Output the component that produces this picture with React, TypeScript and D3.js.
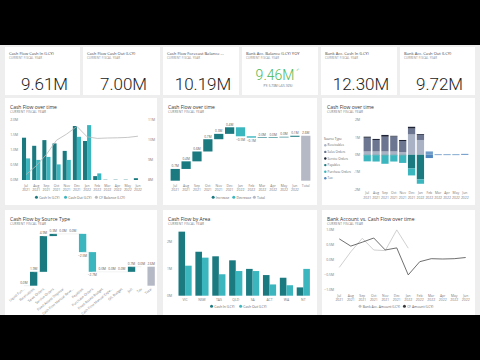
import React from 'react';
import * as d3 from 'd3';

// ---- data ----
const months = ['Jul', 'Aug', 'Sep', 'Oct', 'Nov', 'Dec', 'Jan', 'Feb', 'Mar', 'Apr', 'May', 'Jun'];
const monthYears = ['2021', '2021', '2021', '2021', '2021', '2021', '2022', '2022', '2022', '2022', '2022', '2022'];

const cashIn = [1.41, 1.14, 1.33, 1.22, 0.97, 1.8, 1.3, 0.13, 0.01, 0.01, 0.01, 0.06];
const cashOut = [0.72, 0.67, 0.77, 0.52, 0.67, 1.44, 1.83, 0.22, 0, 0, 0, 0];
const cfBalance = [8.27, 8.71, 9.28, 9.99, 10.3, 10.68, 10.16, 10.08, 10.1, 10.11, 10.13, 10.19];

const cfDelta = [0.68, 0.44, 0.57, 0.71, 0.31, 0.38, -0.52, -0.08, 0.02, 0.01, 0.02, 0.06];

const receivables = [0.19, 0.19, 0.19, 0.19, 0.15, 1.17, 0.85, 0, 0, 0, 0, 0];
const salesOrders = [0.79, 0.66, 0.85, 0.86, 0.64, 0.34, 0.32, 0, 0, 0, 0, 0];
const serviceOrders = [0.06, 0.06, 0.1, 0.04, 0.06, 0.1, 0.01, 0, 0, 0, 0, 0];
const payables = [-0.03, -0.03, -0.05, -0.03, -0.05, -0.79, -1.42, 0, 0, 0, 0, 0];
const purchaseOrders = [-0.35, -0.36, -0.47, -0.36, -0.42, -0.4, -0.25, 0, 0, 0, 0, 0];
const tax = [0, 0, 0, 0, 0, 0, 0, -0.19, 0.02, 0.02, 0.02, 0.05];
const taxRefund = [0, 0, 0, 0, 0, 0, 0, 0.19, 0, 0, 0, 0];

const sourceTypes = ['Liquid Fun...', 'Receivables', 'Sales Orders', 'Service Orders', 'Fixed Assets Disposal',
  'Cash Flow Manual Reve...', 'Payables', 'Purchase Orders', 'Fixed Assets Budget', 'Cash Flow Manual Expe...',
  'G/L Budget', 'Job', 'Tax'];
const sourceValues = [0, 1.9, 4.9, 0.3, 0, 0, -2.5, -2.7, 0, 0, 0, 0.7, 0];

const areas = ['VIC', 'NSW', 'TAS', 'QLD', 'SA', 'ACT', 'WA', 'NT'];
const areaIn = [2.39, 1.64, 1.47, 1.32, 1.0, 0.77, 0.67, 0.31];
const areaOut = [1.12, 1.42, 0.8, 0.92, 0.92, 0.42, 0.39, 1.0];

const bankAmount = [-0.27, 0.25, 0.7, 0.31, 0.29, 0.98, 0.37];

const kpis = [
  { title: 'Cash Flow Cash In (LCY)', value: '9.61M' },
  { title: 'Cash Flow Cash Out (LCY)', value: '7.00M' },
  { title: 'Cash Flow Forecast Balance ...', value: '10.19M' },
  { title: 'Bank Acc. Balance (LCY) YOY', value: '9.46M' },
  { title: 'Bank Acc. Cash In (LCY)', value: '12.30M' },
  { title: 'Bank Acc. Cash Out (LCY)', value: '9.72M' },
];

const FONT = "'Segoe UI', 'Open Sans', 'Noto Sans', sans-serif";
const NUMFONT = "Roboto, 'Open Sans', sans-serif";
const DARK = '#1b7a80';
const LIGHT = '#3bb6bf';
const TOTAL = '#b5b9c6';
const AXIS = '#7a7a7a';

const fmtM = (v: number) => d3.format('.1f')(v) + 'M';

function Panel({ x, y, w, h, title }: any) {
  return (
    <g>
      <rect x={x} y={y} width={w} height={h} fill="#fff" />
      <text x={x + 5} y={y + 10.5} fontSize={5} fill="#333">{title}</text>
      <text x={x + 5} y={y + 15} fontSize={3.1} fill="#777" letterSpacing={0.2}>CURRENT FISCAL YEAR</text>
    </g>
  );
}

function Legend({ items, cx, y }: any) {
  const fs = 3.4;
  const widths = items.map((it: any) => 4.5 + it.label.length * fs * 0.5 + 2.5);
  let x = cx - d3.sum(widths) / 2;
  return (
    <g>
      {items.map((it: any, i: number) => {
        const x0 = x;
        x += widths[i];
        return (
          <g key={i}>
            <circle cx={x0 + 1.5} cy={y - 1.2} r={1.5} fill={it.color} />
            <text x={x0 + 4.2} y={y} fontSize={fs} fill="#666">{it.label}</text>
          </g>
        );
      })}
    </g>
  );
}

function MonthLabels({ xs, y }: any) {
  return (
    <g fontSize={3.4} fill={AXIS} textAnchor="middle">
      {months.map((m, i) => (
        <g key={m}>
          <text x={xs(m)} y={y}>{m}</text>
          <text x={xs(m)} y={y + 4.5}>{monthYears[i]}</text>
        </g>
      ))}
    </g>
  );
}

function waterfall(values: number[]) {
  let run = 0;
  return values.map((v) => {
    const start = run;
    run += v;
    return { start, end: run, v };
  });
}

// ---- panel 1: cash in / out bars with balance line ----
function CashFlowBars() {
  const x = d3.scaleBand().domain(months).range([22, 142]).paddingInner(0.2);
  const yL = d3.scaleLinear().domain([0, 2]).range([180, 120]);
  const yR = d3.scaleLinear().domain([8, 11]).range([180, 120]);
  const bw = x.bandwidth() / 2;
  const line = d3.line<number>().x((_, i) => (x(months[i]) as number) + x.bandwidth() / 2).y((d) => yR(d));
  return (
    <g>
      <Panel x={5} y={98} w={152} h={107} title="Cash Flow over time" />
      {yL.ticks(4).map((t) => (
        <text key={t} x={18} y={yL(t) + 1.3} fontSize={3.4} fill={AXIS} textAnchor="end">{fmtM(t)}</text>
      ))}
      {yR.ticks(3).map((t) => (
        <text key={t} x={148} y={yR(t) + 1.3} fontSize={3.4} fill={AXIS}>{t + 'M'}</text>
      ))}
      {months.map((m, i) => (
        <g key={m}>
          <rect x={x(m)} y={yL(cashIn[i])} width={bw} height={yL(0) - yL(cashIn[i])} fill={DARK} />
          <rect x={(x(m) as number) + bw} y={yL(cashOut[i])} width={bw} height={yL(0) - yL(cashOut[i])} fill={LIGHT} />
        </g>
      ))}
      <path d={line(cfBalance) as string} fill="none" stroke="#b8b8b8" strokeWidth={0.8} />
      <MonthLabels xs={(m: string) => (x(m) as number) + x.bandwidth() / 2} y={186.5} />
      <Legend cx={82} y={198.5} items={[
        { label: 'Cash In (LCY)', color: DARK },
        { label: 'Cash Out (LCY)', color: LIGHT },
        { label: 'CF Balance (LCY)', color: '#b8b8b8' },
      ]} />
    </g>
  );
}

// ---- panel 2: monthly waterfall ----
function MonthWaterfall() {
  const cats = [...months, 'Total'];
  const x = d3.scaleBand().domain(cats).range([170.6, 310.4]).paddingInner(0.15);
  const y = d3.scaleLinear().domain([0, 3.5]).range([180.7, 120.2]);
  const steps = waterfall(cfDelta);
  const total = steps[steps.length - 1].end;
  return (
    <g>
      <Panel x={163} y={98} w={154} h={107} title="Cash Flow over time" />
      {steps.map((s, i) => {
        const top = y(Math.max(s.start, s.end));
        const bot = y(Math.min(s.start, s.end));
        const cx = (x(months[i]) as number) + x.bandwidth() / 2;
        const neg = s.v < 0;
        return (
          <g key={i}>
            <rect x={x(months[i])} y={top} width={x.bandwidth()} height={Math.max(bot - top, 0.6)} fill={neg ? LIGHT : DARK} />
            <text x={cx} y={neg ? bot + 4.5 : top - 1.6} fontSize={3.2} fill="#555" textAnchor="middle">{fmtM(s.v)}</text>
          </g>
        );
      })}
      <rect x={x('Total')} y={y(total)} width={x.bandwidth()} height={y(0) - y(total)} fill={TOTAL} />
      <text x={(x('Total') as number) + x.bandwidth() / 2} y={y(total) - 1.6} fontSize={3.2} fill="#555" textAnchor="middle">{fmtM(total)}</text>
      <MonthLabels xs={(m: string) => (x(m) as number) + x.bandwidth() / 2} y={186.5} />
      <text x={(x('Total') as number) + x.bandwidth() / 2} y={186.5} fontSize={3.4} fill={AXIS} textAnchor="middle">Total</text>
      <Legend cx={240} y={198.5} items={[
        { label: 'Increase', color: DARK },
        { label: 'Decrease', color: LIGHT },
        { label: 'Total', color: TOTAL },
      ]} />
    </g>
  );
}

// ---- panel 3: stacked by source type ----
const legendKeys = ['Receivables', 'Sales Orders', 'Service Orders', 'Payables', 'Purchase Orders', 'Tax'];
const stackKeys = ['Receivables', 'Sales Orders', 'Service Orders', 'Tax Refund', 'Payables', 'Purchase Orders', 'Tax'];
const stackColors: Record<string, string> = {
  'Receivables': '#aab2c5',
  'Sales Orders': '#6c7691',
  'Service Orders': '#1e2435',
  'Payables': DARK,
  'Purchase Orders': LIGHT,
  'Tax': '#4f86bd',
  'Tax Refund': '#6f9bc9',
};

function SourceStack() {
  const rows = months.map((m, i) => ({
    month: m,
    'Receivables': receivables[i],
    'Sales Orders': salesOrders[i],
    'Service Orders': serviceOrders[i],
    'Tax Refund': taxRefund[i],
    'Payables': payables[i],
    'Purchase Orders': purchaseOrders[i],
    'Tax': tax[i],
  }));
  const series = d3.stack<any>().keys(stackKeys).offset(d3.stackOffsetDiverging)(rows);
  const x = d3.scaleBand().domain(months).range([363.6, 468.4]).paddingInner(0.18);
  const y = d3.scaleLinear().domain([-2, 2]).range([189.5, 120]);
  return (
    <g>
      <Panel x={322} y={98} w={153} h={107} title="Cash Flow over time" />
      {y.ticks(4).map((t) => (
        <text key={t} x={360} y={y(t) + 1.3} fontSize={3.4} fill={AXIS} textAnchor="end">{t + 'M'}</text>
      ))}
      {series.map((s) => (
        <g key={s.key} fill={stackColors[s.key]}>
          {s.map((d, i) => {
            const h = Math.abs(y(d[0]) - y(d[1]));
            if (h <= 0) return null;
            return <rect key={i} x={x(months[i])} y={Math.min(y(d[0]), y(d[1]))} width={x.bandwidth()} height={Math.max(h, 0.7)} />;
          })}
        </g>
      ))}
      <MonthLabels xs={(m: string) => (x(m) as number) + x.bandwidth() / 2} y={194} />
      <text x={324} y={140} fontSize={3.1} fill="#555">Source Type</text>
      {legendKeys.map((k, i) => (
        <g key={k}>
          <circle cx={325.3} cy={145.3 + i * 6.6} r={1.2} fill={stackColors[k]} />
          <text x={327.6} y={146.4 + i * 6.6} fontSize={3.0} fill="#666">{k}</text>
        </g>
      ))}
    </g>
  );
}

// ---- panel 4: waterfall by source type ----
function SourceWaterfall() {
  const cats = [...sourceTypes, 'Total'];
  const x = d3.scaleBand().domain(cats).range([20.2, 154.8]).paddingInner(0.25);
  const y = d3.scaleLinear().domain([0, 7.5]).range([285.7, 230.95]);
  const steps = waterfall(sourceValues);
  const total = steps[steps.length - 1].end;
  const cxOf = (c: string) => (x(c) as number) + x.bandwidth() / 2;
  return (
    <g>
      <Panel x={5} y={210} w={152} h={110} title="Cash Flow by Source Type" />
      {steps.map((s, i) => {
        const c = sourceTypes[i];
        const top = y(Math.max(s.start, s.end));
        const bot = y(Math.min(s.start, s.end));
        const neg = s.v < 0;
        return (
          <g key={c}>
            {i > 0 && (
              <line x1={cxOf(sourceTypes[i - 1])} x2={cxOf(c)} y1={y(s.start)} y2={y(s.start)} stroke="#ddd" strokeWidth={0.4} />
            )}
            {s.v !== 0 && (
              <rect x={x(c)} y={top} width={x.bandwidth()} height={bot - top} fill={neg ? LIGHT : DARK} />
            )}
            <text x={cxOf(c)} y={neg ? bot + 4.5 : top - 1.6} fontSize={3.2} fill="#555" textAnchor="middle">{fmtM(s.v)}</text>
          </g>
        );
      })}
      <rect x={x('Total')} y={y(total)} width={x.bandwidth()} height={y(0) - y(total)} fill={TOTAL} />
      <text x={cxOf('Total')} y={y(total) - 1.6} fontSize={3.2} fill="#555" textAnchor="middle">{fmtM(total)}</text>
      {cats.map((c) => (
        <text key={c} transform={`translate(${cxOf(c) + 1},${289.5}) rotate(-40)`} fontSize={3.4} fill={AXIS} textAnchor="end">{c}</text>
      ))}
    </g>
  );
}

// ---- panel 5: by area ----
function AreaBars() {
  const x = d3.scaleBand().domain(areas).range([178.5, 309.9]).paddingInner(0.22);
  const y = d3.scaleLinear().domain([0, 2.5]).range([295.7, 228.7]);
  const bw = x.bandwidth() / 2;
  return (
    <g>
      <Panel x={163} y={210} w={154} h={110} title="Cash Flow by Area" />
      {[0, 1, 2].map((t) => (
        <text key={t} x={172} y={y(t) + 1.3} fontSize={3.4} fill={AXIS} textAnchor="end">{t + 'M'}</text>
      ))}
      {areas.map((a, i) => (
        <g key={a}>
          <rect x={x(a)} y={y(areaIn[i])} width={bw} height={y(0) - y(areaIn[i])} fill={DARK} />
          <rect x={(x(a) as number) + bw} y={y(areaOut[i])} width={bw} height={y(0) - y(areaOut[i])} fill={LIGHT} />
          <text x={(x(a) as number) + bw} y={300.5} fontSize={3.4} fill={AXIS} textAnchor="middle">{a}</text>
        </g>
      ))}
      <Legend cx={240} y={307.5} items={[
        { label: 'Cash In (LCY)', color: DARK },
        { label: 'Cash Out (LCY)', color: LIGHT },
      ]} />
    </g>
  );
}

// ---- panel 6: bank vs cash flow lines ----
function BankLines() {
  const x = d3.scalePoint().domain(months).range([339.3, 465.7]);
  const y = d3.scaleLinear().domain([-1, 1]).range([289.3, 229.3]);
  const line = d3.line<number>().x((_, i) => x(months[i]) as number).y((d) => y(d));
  return (
    <g>
      <Panel x={322} y={210} w={153} h={110} title="Bank Account vs. Cash Flow over time" />
      {y.ticks(4).map((t) => (
        <text key={t} x={334} y={y(t) + 1.3} fontSize={3.4} fill={AXIS} textAnchor="end">{fmtM(t)}</text>
      ))}
      <path d={line(bankAmount) as string} fill="none" stroke="#c4c4c4" strokeWidth={0.8} />
      <path d={line(cfDelta) as string} fill="none" stroke="#4a4a4a" strokeWidth={0.8} />
      <MonthLabels xs={(m: string) => x(m)} y={296.5} />
      <Legend cx={397} y={307.5} items={[
        { label: 'Bank Acc. Amount (LCY)', color: '#c4c4c4' },
        { label: 'CF Amount (LCY)', color: '#3a3a3a' },
      ]} />
    </g>
  );
}

function Kpis() {
  const cards = [[5, 80], [83, 160], [163, 239], [242, 318], [321, 397], [400, 475]];
  return (
    <g>
      {kpis.map((k, i) => {
        const [x0, x1] = cards[i];
        const cx = (x0 + x1) / 2;
        const yoy = i === 3;
        return (
          <g key={k.title}>
            <rect x={x0} y={47} width={x1 - x0} height={48} fill="#fff" />
            <text x={x0 + 4} y={54.8} fontSize={4.1} fill="#444">{k.title}</text>
            <text x={x0 + 4} y={59.2} fontSize={2.8} fill="#888" letterSpacing={0.2}>CURRENT FISCAL YEAR</text>
            {yoy ? (
              <g>
                <text x={cx - 5} y={80} fontSize={14} fontWeight={300} fill="#4fb84f" textAnchor="middle"
                  fontFamily={NUMFONT}>{k.value}</text>
                <text x={cx + 15.5} y={71} fontSize={4} fill="#4fb84f">✓</text>
                <text x={cx - 2} y={86.5} fontSize={3.1} fill="#666" textAnchor="middle">PY: 5.73M (+65.16%)</text>
              </g>
            ) : (
              <text x={cx + 2} y={89.5} fontSize={17} fontWeight={300} fill="#222" textAnchor="middle"
                fontFamily={NUMFONT}>{k.value}</text>
            )}
          </g>
        );
      })}
    </g>
  );
}

export default function App() {
  return (
    <svg width={480} height={360} style={{ position: 'absolute', left: 0, top: 0 }} fontFamily={FONT}>
      <rect width={480} height={360} fill="#000" />
      <rect x={0} y={45} width={480} height={270} fill="#eeeeee" />
      <Kpis />
      <CashFlowBars />
      <MonthWaterfall />
      <SourceStack />
      <SourceWaterfall />
      <AreaBars />
      <BankLines />
      <rect x={0} y={315} width={480} height={45} fill="#000" />
    </svg>
  );
}
